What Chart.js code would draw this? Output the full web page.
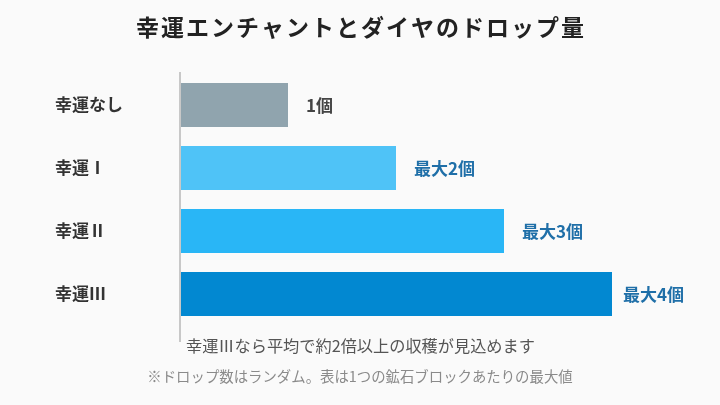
<!DOCTYPE html>
<html>
<head>
<meta charset="utf-8">
<script src="https://cdn.jsdelivr.net/npm/chart.js@4/dist/chart.umd.min.js"></script>
<style>
  html, body { margin: 0; padding: 0; background: #fafafa; }
  #wrap { width: 720px; height: 405px; position: relative; }
</style>
</head>
<body>
<div id="wrap"><canvas id="chart"></canvas></div>
<script>
const categories = ["幸運なし", "幸運Ⅰ", "幸運Ⅱ", "幸運Ⅲ"];
const drops = [1, 2, 3, 4];
const valueLabels = ["1個", "最大2個", "最大3個", "最大4個"];
const barColors = ["#90a4ae", "#4fc3f7", "#29b6f6", "#0288d1"];
const labelColors = ["#444444", "#1f6fa8", "#1f6fa8", "#1f6fa8"];
const titleText = "幸運エンチャントとダイヤのドロップ量";
const noteText = "幸運Ⅲなら平均で約2倍以上の収穫が見込めます";
const footText = "※ドロップ数はランダム。表は1つの鉱石ブロックあたりの最大値";

const FONT = "'Noto Sans CJK JP', 'Noto Sans', sans-serif";

// title, value labels, notes and the long axis line
const extras = {
    id: 'extras',
    afterDatasetsDraw(chart) {
        const ctx = chart.ctx;
        const area = chart.chartArea;
        ctx.save();
        // axis line
        ctx.strokeStyle = "#c8c8c8";
        ctx.lineWidth = 2;
        ctx.beginPath();
        ctx.moveTo(area.left, 72);
        ctx.lineTo(area.left, 342);
        ctx.stroke();

        // title
        ctx.fillStyle = "#222222";
        ctx.font = "bold 23px " + FONT;
        ctx.textAlign = "center";
        ctx.textBaseline = "middle";
        if (ctx.letterSpacing !== undefined) ctx.letterSpacing = "2px";
        ctx.fillText(titleText, 361, 27);
        if (ctx.letterSpacing !== undefined) ctx.letterSpacing = "0px";

        // value labels, kept inside the right margin
        const meta = chart.getDatasetMeta(0);
        ctx.font = "bold 17px " + FONT;
        ctx.textAlign = "left";
        meta.data.forEach((bar, i) => {
            const w = ctx.measureText(valueLabels[i]).width;
            const x = Math.min(bar.x + 18, 684 - w);
            ctx.fillStyle = labelColors[i];
            ctx.fillText(valueLabels[i], x, bar.y + 1);
        });

        // notes
        ctx.fillStyle = "#555555";
        ctx.font = "16.2px " + FONT;
        ctx.fillText(noteText, area.left + 6, 346);
        ctx.fillStyle = "#8a8a8a";
        ctx.font = "14.4px " + FONT;
        ctx.textAlign = "center";
        ctx.fillText(footText, 360, 377);
        ctx.restore();
    }
};

new Chart(document.getElementById('chart'), {
    type: 'bar',
    data: {
        labels: categories,
        datasets: [{
            data: drops,
            backgroundColor: barColors,
            barPercentage: 0.7,
            categoryPercentage: 1.0
        }]
    },
    options: {
        indexAxis: 'y',
        responsive: true,
        maintainAspectRatio: false,
        animation: false,
        layout: { padding: { left: 55, right: 0, top: 73.5, bottom: 79.5 } },
        plugins: {
            legend: { display: false },
            tooltip: { enabled: false }
        },
        scales: {
            x: {
                display: false,
                min: 0,
                max: 5
            },
            y: {
                grid: { display: false },
                border: { display: false },
                afterFit(scale) { scale.width = 125; },
                ticks: {
                    crossAlign: 'far',
                    color: "#333333",
                    font: { family: FONT, size: 17, weight: 'bold' }
                }
            }
        }
    },
    plugins: [extras]
});
</script>
</body>
</html>
